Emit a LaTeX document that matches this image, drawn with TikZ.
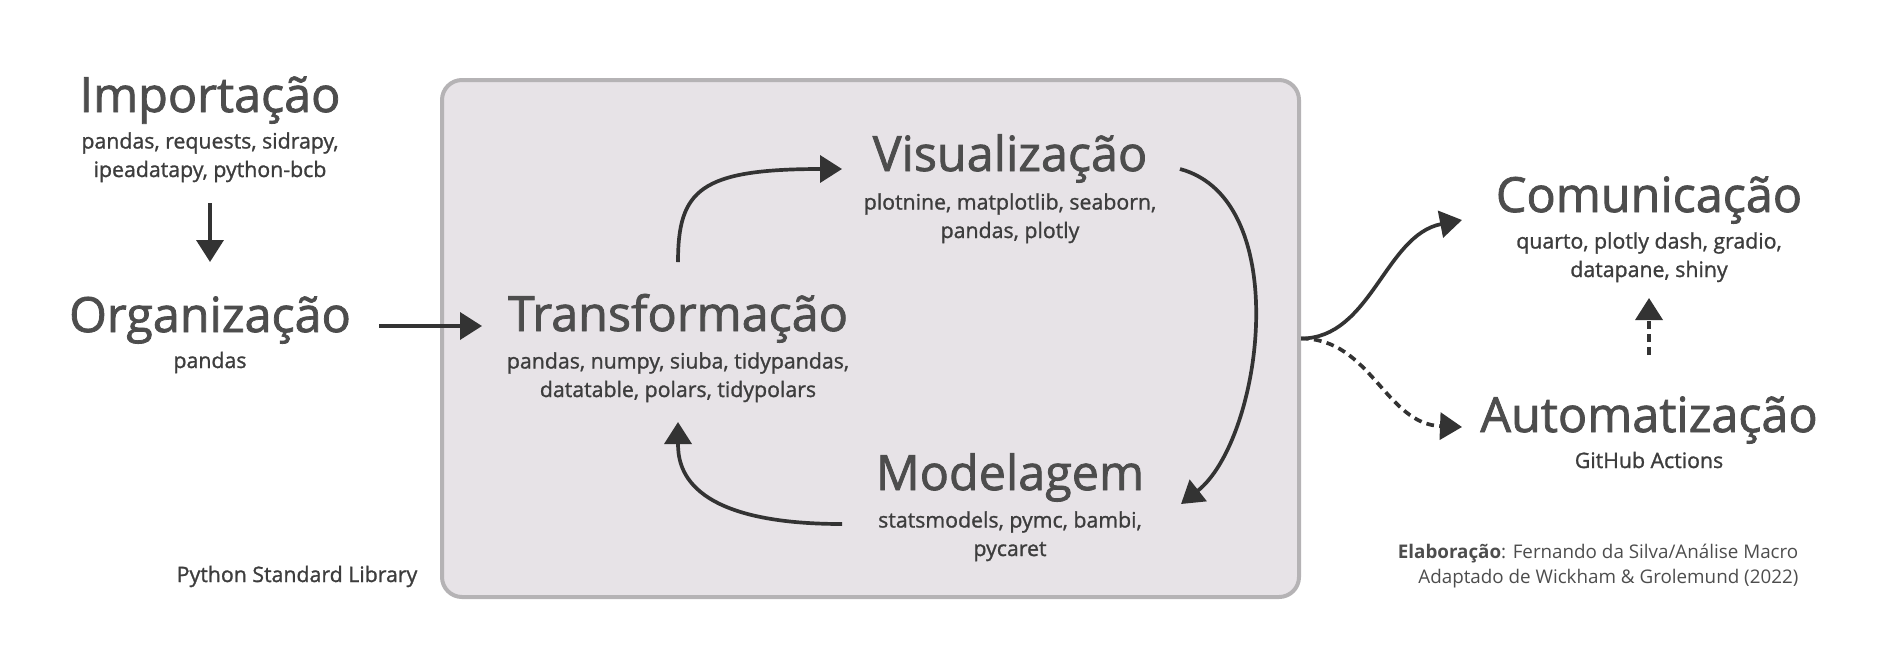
\documentclass[tikz,border=0pt]{standalone}
\usepackage{fontspec}
\setmainfont{Open Sans}
\newfontfamily\headfont{Open Sans}[FakeBold=1.6]
\newfontfamily\toolfont{Open Sans}[FakeBold=1.2]
\usepackage{xcolor}
\usetikzlibrary{arrows.meta}

\definecolor{boxfill}{HTML}{E7E3E7}
\definecolor{boxline}{HTML}{B5B3B5}
\definecolor{ink}{HTML}{333333}
\definecolor{headgray}{HTML}{4D4D4D}
\definecolor{subgray}{HTML}{3D3D3D}

\begin{document}
\begin{tikzpicture}[
  stage/.style={inner sep=0, text=headgray, font=\headfont\fontsize{13.8}{16}\selectfont},
  tools/.style={inner sep=0, text=subgray, align=center, font=\toolfont\fontsize{6.06}{8.1}\selectfont},
  note/.style={inner sep=0, text=headgray, font=\fontsize{5.35}{7.1}\selectfont},
  link/.style={draw=ink, line width=1.05pt, -{Triangle[length=2.2mm, width=2.7mm]}},
  dashlink/.style={link, dash pattern=on 2.2pt off 1.5pt},
]
\useasboundingbox (0,0) rectangle (18.8,-6.49);
\node[draw=boxline, fill=boxfill, line width=1.14pt, rounded corners=0.2cm,
  minimum width=8.57cm, minimum height=5.17cm] (core) at (8.705,-3.385) {};

\node[stage, anchor=base] (imp) at (2.10,-1.12) {Importação};
\node[tools, anchor=base] (impsub) at (2.10,-1.77) {pandas, requests, sidrapy,\\ipeadatapy, python-bcb};
\node[stage, anchor=base] (org) at (2.10,-3.32) {Organização};
\node[tools, anchor=base] (orgsub) at (2.10,-3.68) {pandas};
\node[stage, anchor=base] (trans) at (6.78,-3.31) {Transformação};
\node[tools, anchor=base] (transsub) at (6.78,-3.97) {pandas, numpy, siuba, tidypandas,\\datatable, polars, tidypolars};
\node[stage, anchor=base] (vis) at (10.10,-1.71) {Visualização};
\node[tools, anchor=base] (vissub) at (10.10,-2.38) {plotnine, matplotlib, seaborn,\\pandas, plotly};
\node[stage, anchor=base] (mod) at (10.10,-4.90) {Modelagem};
\node[tools, anchor=base] (modsub) at (10.10,-5.56) {statsmodels, pymc, bambi,\\pycaret};
\node[stage, anchor=base] (com) at (16.49,-2.12) {Comunicação};
\node[tools, anchor=base] (comsub) at (16.49,-2.77) {quarto, plotly dash, gradio,\\datapane, shiny};
\node[stage, anchor=base] (aut) at (16.49,-4.32) {Automatização};
\node[tools, anchor=base] (autsub) at (16.49,-4.68) {GitHub Actions};
\node[tools, anchor=base east] (psl) at (4.18,-5.82) {Python Standard Library};
\node[note, anchor=base east, align=right] (credit) at (17.99,-5.83) {\textbf{Elaboração}: Fernando da Silva/Análise Macro\\Adaptado de Wickham \& Grolemund (2022)};

\draw[link] ([yshift=-0.91cm]imp.base) -- ([yshift=0.70cm]org.base);
\draw[link] ([shift={(1.69,0.06)}]org.base) -- ([shift={(-1.96,0.05)}]trans.base);
\draw[link] ([yshift=0.69cm]trans.base) .. controls +(0,0.72) and +(-1.42,0) .. ([shift={(-1.68,0.02)}]vis.base);
\draw[link] ([shift={(1.70,0.02)}]vis.base) .. controls +(1.15,-0.31) and +(0.81,0.64) .. ([shift={(1.71,-0.14)}]mod.base);
\draw[link] ([shift={(-1.68,-0.34)}]mod.base) .. controls +(-1.59,0) and +(0,-0.43) .. ([yshift=-0.91cm]trans.base);
\draw[link] (core.east) .. controls +(0.70,0) and +(-0.77,-0.15) .. ([shift={(-1.87,-0.08)}]com.base);
\draw[dashlink] (core.east) .. controls +(0.70,0) and +(-0.77,0.03) .. ([shift={(-1.87,0.05)}]aut.base);
\draw[dashlink] ([yshift=0.77cm]aut.base) -- ([yshift=-0.86cm]com.base);
\end{tikzpicture}
\end{document}
